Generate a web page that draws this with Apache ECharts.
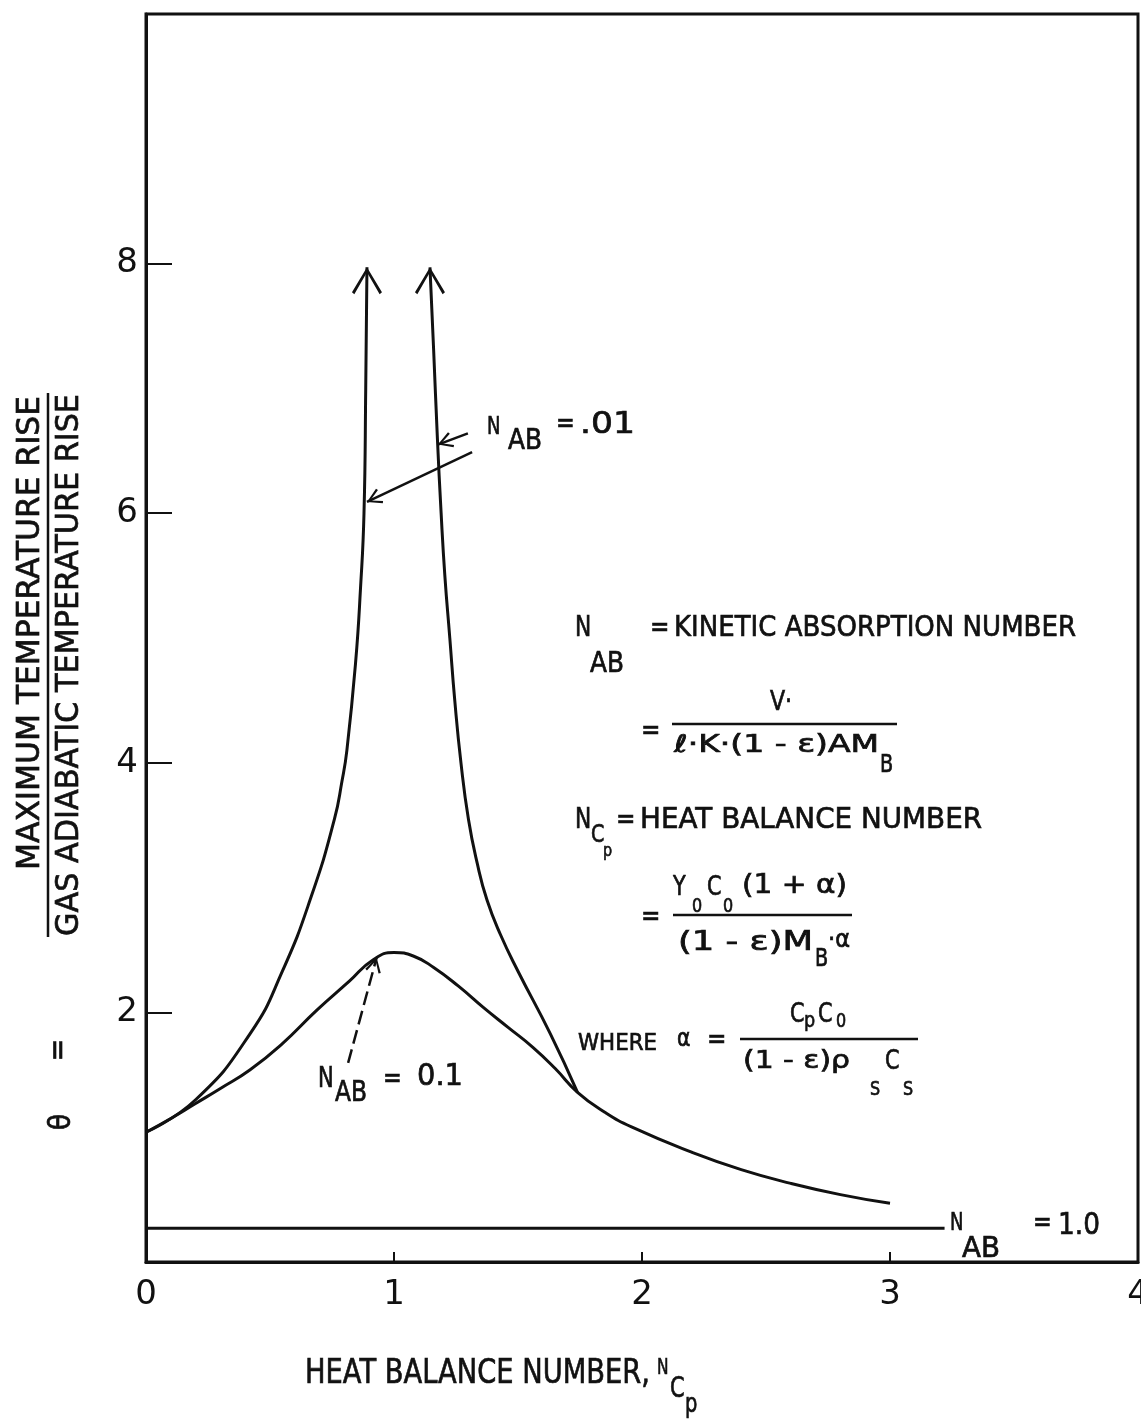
<!DOCTYPE html>
<html>
<head>
<meta charset="utf-8">
<script src="https://cdn.jsdelivr.net/npm/echarts@6/dist/echarts.min.js"></script>
<style>
  html, body { margin: 0; padding: 0; background: #fff; }
  #chart { width: 1141px; height: 1424px; }
</style>
</head>
<body>
<div id="chart"></div>
<script>
// Heat balance number N_Cp (x) against θ = max temperature rise / gas adiabatic rise
// N_AB = 0.1
const ncpAB01 = [0, 0.1, 0.2, 0.3, 0.42, 0.55, 0.69, 0.82, 0.915, 1.0, 1.08, 1.16, 1.26, 1.36, 1.46, 1.56, 1.65, 1.74, 1.85, 1.96, 2.2, 2.4, 2.6, 2.8, 3.0];
const thetaAB01 = [1.04, 1.15, 1.27, 1.39, 1.54, 1.75, 2.02, 2.25, 2.42, 2.48, 2.45, 2.36, 2.21, 2.04, 1.88, 1.72, 1.55, 1.36, 1.20, 1.08, 0.88, 0.74, 0.63, 0.54, 0.47];
// N_AB = .01, left branch (rising to the asymptote)
const ncpAB001Left = [0, 0.2, 0.42, 0.55, 0.67, 0.76, 0.79, 0.81, 0.845, 0.865, 0.879, 0.886, 0.891];
const thetaAB001Left = [1.04, 1.30, 1.83, 2.33, 2.95, 3.55, 3.85, 4.1, 4.8, 5.4, 6.0, 7.0, 7.97];
// N_AB = .01, right branch (falling back onto the N_AB = 0.1 curve)
const ncpAB001Right = [1.145, 1.16, 1.175, 1.19, 1.205, 1.225, 1.245, 1.27, 1.30, 1.335, 1.375, 1.43, 1.50, 1.63, 1.74];
const thetaAB001Right = [7.97, 7.3, 6.6, 6.0, 5.5, 5.0, 4.5, 4.0, 3.55, 3.2, 2.9, 2.62, 2.33, 1.83, 1.36];
// N_AB = 1.0
const ncpAB1 = [0, 3.22];
const thetaAB1 = [0.27, 0.27];
// axis ticks
const xTickValues = [1, 2, 3];
const xLabelValues = [0, 1, 2, 3, 4];
const yTickValues = [2, 4, 6, 8];

const INK = '#111';
const FONT = 'DejaVu Sans';
const CHEVRON = 'path://M16,0 L32,25 L29.5,27 L16,5 L2.5,27 L0,25 Z';
const SMALL_ARROW = 'path://M10,0 L20,17 L17.5,18.5 L10,4.5 L2.5,18.5 L0,17 Z';

function pairs(xs, ys) { return xs.map((x, i) => [x, ys[i]]); }
function tipped(point) {
  return { value: point, symbol: CHEVRON, symbolSize: [30, 27], symbolOffset: [0, '50%'] };
}

const leftData = pairs(ncpAB001Left, thetaAB001Left);
leftData[leftData.length - 1] = tipped(leftData[leftData.length - 1]);
const rightData = pairs(ncpAB001Right, thetaAB001Right);
rightData[0] = tipped(rightData[0]);

// text helpers (condensed typewriter-like lettering)
const measureCtx = document.createElement('canvas').getContext('2d');
function measure(str, size) {
  measureCtx.font = size + 'px "' + FONT + '"';
  return measureCtx.measureText(str).width;
}
function t(str, x, cy, size, opt) {
  opt = opt || {};
  const sx = opt.w ? opt.w / measure(str, size) : (opt.sx || 0.8);
  return {
    type: 'text', x: x, y: cy, scaleX: sx, rotation: opt.rot || 0, silent: true, z: 100,
    style: {
      text: str, x: 0, y: 0, fontSize: size, fontFamily: FONT, fill: INK,
      stroke: INK, lineWidth: 0.7,
      align: opt.align || 'left', verticalAlign: 'middle'
    }
  };
}
function bar(x1, y1, x2, y2, w) {
  return { type: 'line', silent: true, z: 100,
    shape: { x1: x1, y1: y1, x2: x2, y2: y2 }, style: { stroke: INK, lineWidth: w || 2 } };
}

const R = Math.PI / 2;
const graphics = [
  // vertical axis title: θ = MAXIMUM TEMPERATURE RISE / GAS ADIABATIC TEMPERATURE RISE
  t('MAXIMUM TEMPERATURE RISE', 31, 633, 32, { w: 474, align: 'center', rot: R }),
  bar(48, 393, 48, 937, 2.5),
  t('GAS ADIABATIC TEMPERATURE RISE', 70, 665, 32, { w: 542, align: 'center', rot: R }),
  t('=', 59, 1050, 30, { align: 'center', rot: R, sx: 0.9 }),
  t('θ', 62, 1122, 30, { align: 'center', rot: R, sx: 0.9 }),

  // horizontal axis title
  t('HEAT BALANCE NUMBER,', 305, 1374, 34, { w: 345 }),
  t('N', 657, 1368, 22, { sx: 0.7 }),
  t('C', 670, 1390, 28, { sx: 0.75 }),
  t('p', 685, 1405, 26, { sx: 0.75 }),

  // definitions
  t('N', 575, 628, 29, { sx: 0.75 }),
  t('AB', 590, 664, 29, { w: 34 }),
  t('=', 650, 628, 29, { sx: 0.8 }),
  t('KINETIC ABSORPTION NUMBER', 674, 628, 29, { w: 402 }),

  t('=', 641, 731, 29, { sx: 0.8 }),
  t('V·', 781, 703, 26, { align: 'center', sx: 0.85 }),
  bar(672, 724, 897, 724, 2.5),
  t('ℓ·K·(1 - ε)AM', 674, 746, 24, { w: 205 }),
  t('B', 880, 766, 24, { sx: 0.8 }),

  t('N', 575, 820, 29, { sx: 0.75 }),
  t('C', 591, 836, 24, { sx: 0.8 }),
  t('p', 603, 851, 18, { sx: 0.8 }),
  t('=', 616, 820, 29, { sx: 0.8 }),
  t('HEAT BALANCE NUMBER', 640, 820, 29, { w: 342 }),

  t('=', 641, 917, 29, { sx: 0.8 }),
  t('Y', 673, 888, 26, { sx: 0.8 }),
  t('0', 692, 907, 20, { sx: 0.8 }),
  t('C', 707, 888, 26, { sx: 0.8 }),
  t('0', 723, 907, 20, { sx: 0.8 }),
  t('(1 + α)', 742, 886, 26, { w: 105 }),
  bar(673, 915, 852, 915, 2.5),
  t('(1 - ε)M', 678, 943, 26, { w: 135 }),
  t('B', 815, 960, 24, { sx: 0.8 }),
  t('·α', 828, 941, 24, { w: 22 }),

  t('WHERE', 578, 1044, 23, { w: 79 }),
  t('α', 677, 1040, 24, { sx: 0.85 }),
  t('=', 707, 1040, 29, { sx: 0.8 }),
  t('C', 790, 1015, 26, { sx: 0.8 }),
  t('p', 804, 1021, 22, { sx: 0.8 }),
  t('C', 818, 1015, 26, { sx: 0.8 }),
  t('0', 836, 1022, 20, { sx: 0.8 }),
  bar(740, 1039, 918, 1039, 2.5),
  t('(1 - ε)ρ', 743, 1062, 24, { w: 107 }),
  t('S', 870, 1090, 20, { sx: 0.8 }),
  t('C', 885, 1062, 26, { sx: 0.8 }),
  t('S', 903, 1090, 20, { sx: 0.8 }),

  // curve labels
  t('N', 487, 428, 24, { sx: 0.75 }),
  t('AB', 508, 442, 28, { w: 34 }),
  t('=', 556, 425, 28, { sx: 0.8 }),
  t('.01', 580, 425, 30, { w: 55 }),

  t('N', 318, 1080, 28, { sx: 0.75 }),
  t('AB', 335, 1094, 28, { w: 32 }),
  t('=', 383, 1080, 28, { sx: 0.8 }),
  t('0.1', 417, 1077, 30, { w: 46 }),

  t('N', 950, 1224, 24, { sx: 0.75 }),
  t('AB', 962, 1250, 28, { w: 38 }),
  t('=', 1033, 1224, 28, { sx: 0.8 }),
  t('1.0', 1058, 1226, 30, { w: 42 })
];

function curve(name, data) {
  return {
    type: 'line', name: name, data: data, smooth: 0.5,
    symbol: 'none', showSymbol: true, silent: true, z: 3,
    lineStyle: { color: INK, width: 3 },
    itemStyle: { color: INK, borderWidth: 0 },
    emphasis: { disabled: true }
  };
}

function pointer(from, to, dashed) {
  return [
    { coord: from, symbol: 'none' },
    { coord: to, symbol: SMALL_ARROW, symbolSize: [16, 15], symbolOffset: [0, '50%'],
      lineStyle: { color: INK, width: 2.5, type: dashed ? [14, 6] : 'solid' } }
  ];
}

const chart = echarts.init(document.getElementById('chart'), null, { renderer: 'canvas' });
chart.setOption({
  animation: false,
  backgroundColor: '#fff',
  grid: {
    left: 146, right: 3, top: 14, bottom: 162, outerBoundsMode: 'none',
    show: true, borderColor: INK, borderWidth: 3, backgroundColor: 'transparent'
  },
  xAxis: {
    type: 'value', min: 0, max: 4, interval: 1,
    axisLine: { show: true, lineStyle: { color: INK, width: 3 } },
    axisTick: { show: true, inside: true, length: 10, customValues: xTickValues, lineStyle: { color: INK, width: 2 } },
    axisLabel: { customValues: xLabelValues, margin: 16, fontSize: 34, fontFamily: FONT, color: INK },
    splitLine: { show: false }
  },
  yAxis: {
    type: 'value', min: 0, max: 10, interval: 2,
    axisLine: { show: true, lineStyle: { color: INK, width: 3 } },
    axisTick: { show: true, inside: true, length: 26, customValues: yTickValues, lineStyle: { color: INK, width: 2 } },
    axisLabel: { customValues: yTickValues, margin: 8, fontSize: 34, fontFamily: FONT, color: INK, padding: [0, 0, 16, 0] },
    splitLine: { show: false }
  },
  series: [
    curve('N_AB = 1.0', pairs(ncpAB1, thetaAB1)),
    curve('N_AB = 0.1', pairs(ncpAB01, thetaAB01)),
    curve('N_AB = .01', leftData),
    curve('N_AB = .01', rightData),
    {
      type: 'line', data: [], silent: true,
      markLine: {
        silent: true, animation: false, symbol: ['none', SMALL_ARROW],
        label: { show: false }, emphasis: { disabled: true },
        lineStyle: { color: INK, width: 2.5, type: 'solid' },
        data: [
          pointer([1.298, 6.64], [1.177, 6.55], false),
          pointer([1.315, 6.49], [0.891, 6.09], false),
          pointer([0.815, 1.595], [0.93, 2.44], true)
        ]
      }
    }
  ],
  graphic: graphics
});
</script>
</body>
</html>
